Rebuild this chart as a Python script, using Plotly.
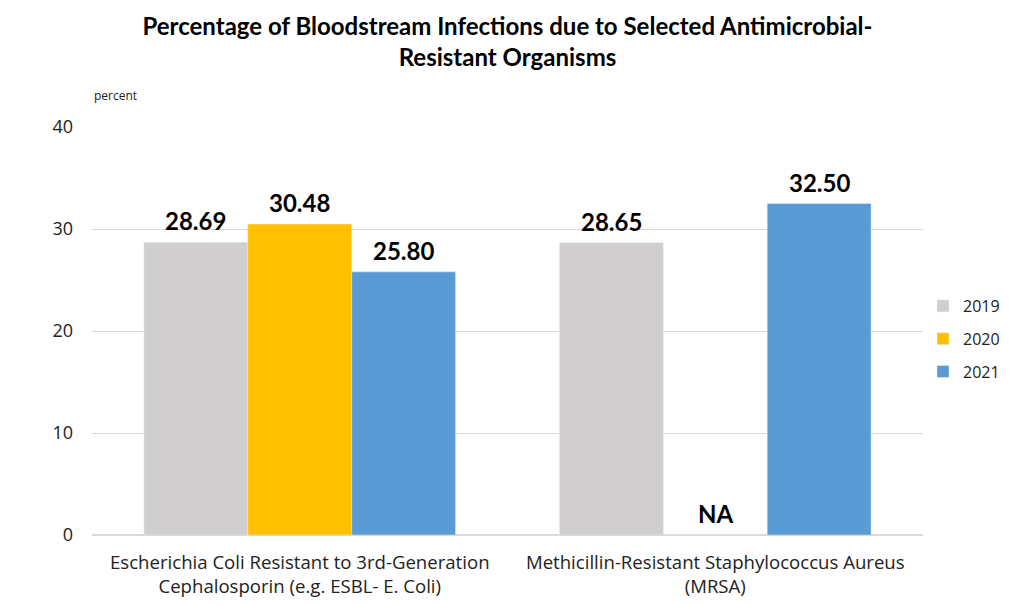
import plotly.graph_objects as go

categories = ["Escherichia Coli Resistant to 3rd-Generation<br>Cephalosporin (e.g. ESBL- E. Coli)",
              "Methicillin-Resistant Staphylococcus Aureus<br>(MRSA)"]
years = ["2019", "2020", "2021"]
values_2019 = [28.69, 28.65]
values_2020 = [30.48, None]
values_2021 = [25.80, 32.50]
colors = {"2019": "#D0CECE", "2020": "#FFC000", "2021": "#5B9BD5"}
tick_vals = [0, 10, 20, 30, 40]

series = {"2019": values_2019, "2020": values_2020, "2021": values_2021}

W, H = 993, 589
ML, MR, MT, MB = 84, 78, 119, 62
plot_w = W - ML - MR
bargap = 0.25
bar_px = plot_w / len(categories) * (1 - bargap) / len(years)

fig = go.Figure()
for i, yr in enumerate(years):
    vals = series[yr]
    ys = [v if v is not None else 0 for v in vals]
    fig.add_trace(go.Bar(
        x=categories, y=ys, name=yr, marker_color=colors[yr], legendgroup=yr,
    ))
    for cat, v in zip(categories, vals):
        fig.add_annotation(
            x=cat, y=(v if v is not None else 0), xref="x", yref="y",
            text=f"{v:.2f}" if v is not None else "NA",
            showarrow=False, yanchor="bottom", xanchor="center",
            xshift=(i - 1) * bar_px, yshift=5,
            font=dict(family="Lato, Open Sans, sans-serif", size=24, color="black", weight="bold"),
        )

fig.update_layout(
    width=W, height=H,
    paper_bgcolor="white", plot_bgcolor="white",
    barmode="group", bargap=bargap, bargroupgap=0,
    margin=dict(l=ML, r=MR, t=MT, b=MB, autoexpand=False),
    title=dict(text="<b>Percentage of Bloodstream Infections due to Selected Antimicrobial-<br>Resistant Organisms</b>",
               x=0.5, xref="paper", xanchor="center", y=1 - 27 / H, yanchor="top",
               font=dict(family="Lato, Open Sans, sans-serif", size=24, color="black")),
    legend=dict(xref="container", x=915 / W, yref="container", y=1 - 331 / H, xanchor="left", yanchor="middle",
                font=dict(family="Open Sans, sans-serif", size=16, color="#222"),
                itemwidth=30, tracegroupgap=9),
    font=dict(family="Open Sans, sans-serif", color="#222"),
    showlegend=True,
)
fig.update_yaxes(range=[0, 40], tickvals=tick_vals, showgrid=True, gridcolor="#D9D9D9",
                 zeroline=True, zerolinecolor="#D9D9D9", showline=False, automargin=False,
                 tickfont=dict(size=18, color="#222"), ticklen=0, ticks="", ticklabelstandoff=18)
fig.update_xaxes(showline=False, tickfont=dict(size=18.6, color="#222"), ticks="", automargin=False,
                 ticklabelstandoff=14)
fig.add_annotation(text="percent", xref="paper", yref="paper", x=0.0, y=1 + 32 / 408,
                   xanchor="left", yanchor="middle", showarrow=False,
                   font=dict(size=12, color="#222"))
fig.write_html("out.html")
